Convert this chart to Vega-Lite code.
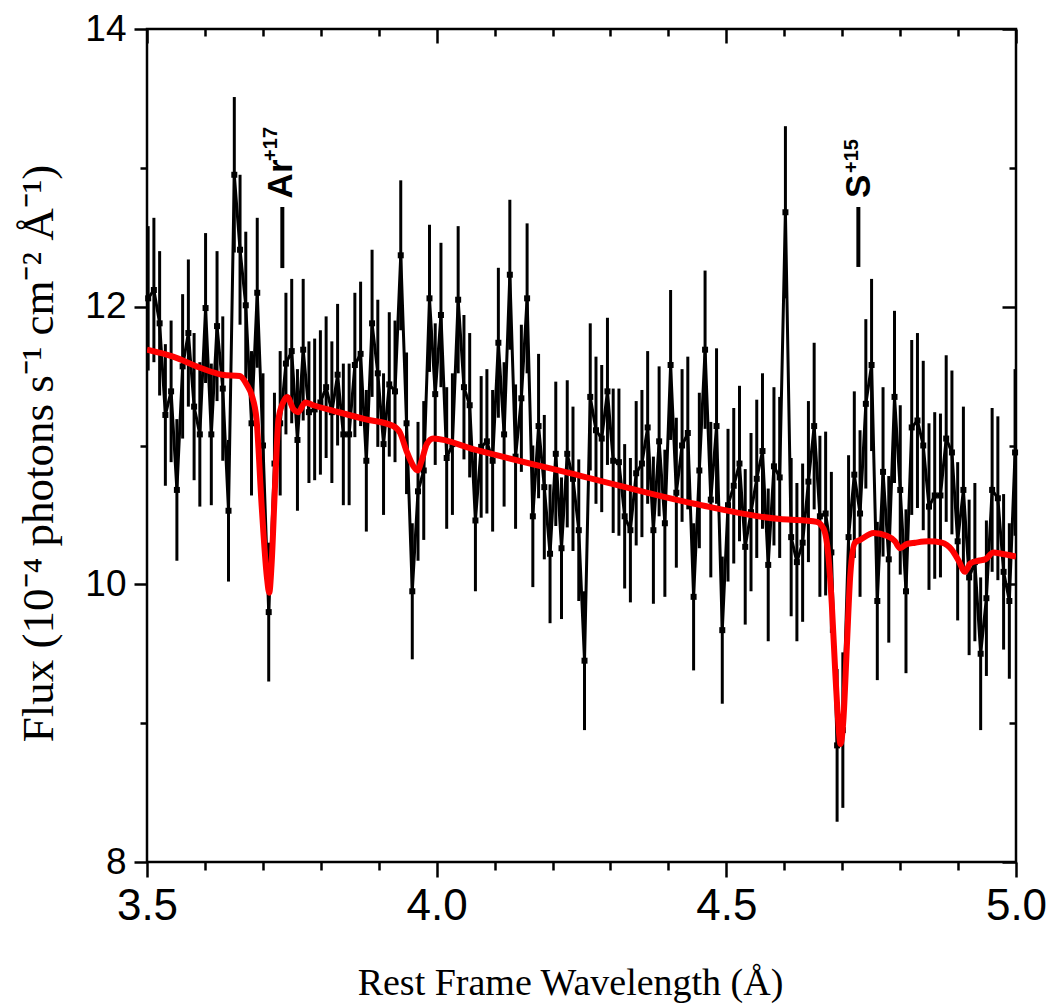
{
  "$schema": "https://vega.github.io/schema/vega-lite/v6.json",
  "width": 869,
  "height": 833,
  "autosize": {"type": "none"},
  "padding": {"left": 147, "top": 29, "right": 32, "bottom": 146},
  "background": "white",
  "config": {
    "view": {"stroke": "black", "strokeWidth": 2.5},
    "axis": {"grid": false, "domain": false, "tickColor": "black", "tickWidth": 2.5, "labelColor": "black", "titleColor": "black", "labelFlush": false, "labelOverlap": false}
  },
  "datasets": {
    "obs": [
      {"wl":3.5020,"flux":12.06,"err":0.52},{"wl":3.5119,"flux":12.12,"err":0.52},{"wl":3.5218,"flux":11.88,"err":0.52},{"wl":3.5317,"flux":11.22,"err":0.51},{"wl":3.5416,"flux":11.39,"err":0.51},
      {"wl":3.5516,"flux":10.68,"err":0.51},{"wl":3.5615,"flux":11.57,"err":0.52},{"wl":3.5714,"flux":11.81,"err":0.53},{"wl":3.5813,"flux":11.28,"err":0.53},{"wl":3.5912,"flux":11.08,"err":0.52},
      {"wl":3.6011,"flux":11.99,"err":0.54},{"wl":3.6110,"flux":11.08,"err":0.51},{"wl":3.6209,"flux":11.86,"err":0.54},{"wl":3.6308,"flux":11.41,"err":0.52},{"wl":3.6407,"flux":10.53,"err":0.51},
      {"wl":3.6507,"flux":12.95,"err":0.56},{"wl":3.6606,"flux":12.41,"err":0.54},{"wl":3.6705,"flux":12.01,"err":0.53},{"wl":3.6804,"flux":11.16,"err":0.52},{"wl":3.6903,"flux":12.10,"err":0.54},
      {"wl":3.7002,"flux":11.00,"err":0.52},{"wl":3.7101,"flux":9.80,"err":0.50},{"wl":3.7200,"flux":10.87,"err":0.51},{"wl":3.7299,"flux":11.16,"err":0.52},{"wl":3.7398,"flux":11.59,"err":0.51},
      {"wl":3.7498,"flux":11.68,"err":0.52},{"wl":3.7597,"flux":11.04,"err":0.51},{"wl":3.7696,"flux":11.69,"err":0.51},{"wl":3.7795,"flux":11.24,"err":0.51},{"wl":3.7894,"flux":11.26,"err":0.51},
      {"wl":3.7993,"flux":11.31,"err":0.52},{"wl":3.8092,"flux":11.42,"err":0.51},{"wl":3.8191,"flux":11.24,"err":0.51},{"wl":3.8290,"flux":11.51,"err":0.51},{"wl":3.8389,"flux":11.08,"err":0.51},
      {"wl":3.8489,"flux":11.08,"err":0.51},{"wl":3.8588,"flux":11.58,"err":0.52},{"wl":3.8687,"flux":11.66,"err":0.52},{"wl":3.8786,"flux":10.89,"err":0.51},{"wl":3.8885,"flux":11.88,"err":0.53},
      {"wl":3.8984,"flux":11.52,"err":0.53},{"wl":3.9083,"flux":11.01,"err":0.51},{"wl":3.9182,"flux":11.44,"err":0.52},{"wl":3.9281,"flux":11.39,"err":0.51},{"wl":3.9380,"flux":12.37,"err":0.54},
      {"wl":3.9480,"flux":11.16,"err":0.51},{"wl":3.9579,"flux":9.95,"err":0.49},{"wl":3.9678,"flux":10.67,"err":0.50},{"wl":3.9777,"flux":10.82,"err":0.50},{"wl":3.9876,"flux":12.06,"err":0.53},
      {"wl":3.9975,"flux":11.37,"err":0.51},{"wl":4.0074,"flux":11.94,"err":0.52},{"wl":4.0173,"flux":10.91,"err":0.51},{"wl":4.0272,"flux":11.01,"err":0.51},{"wl":4.0371,"flux":12.05,"err":0.53},
      {"wl":4.0471,"flux":11.42,"err":0.52},{"wl":4.0570,"flux":11.29,"err":0.52},{"wl":4.0669,"flux":10.46,"err":0.51},{"wl":4.0768,"flux":10.99,"err":0.51},{"wl":4.0867,"flux":11.03,"err":0.52},
      {"wl":4.0966,"flux":10.89,"err":0.51},{"wl":4.1065,"flux":11.74,"err":0.54},{"wl":4.1164,"flux":11.08,"err":0.52},{"wl":4.1263,"flux":12.23,"err":0.54},{"wl":4.1362,"flux":10.92,"err":0.52},
      {"wl":4.1462,"flux":11.34,"err":0.53},{"wl":4.1561,"flux":12.06,"err":0.54},{"wl":4.1660,"flux":10.49,"err":0.51},{"wl":4.1759,"flux":11.14,"err":0.52},{"wl":4.1858,"flux":10.70,"err":0.52},
      {"wl":4.1957,"flux":10.22,"err":0.50},{"wl":4.2056,"flux":10.94,"err":0.52},{"wl":4.2155,"flux":10.26,"err":0.51},{"wl":4.2254,"flux":10.94,"err":0.53},{"wl":4.2353,"flux":10.76,"err":0.52},
      {"wl":4.2453,"flux":10.39,"err":0.51},{"wl":4.2552,"flux":9.45,"err":0.50},{"wl":4.2651,"flux":11.35,"err":0.53},{"wl":4.2750,"flux":11.11,"err":0.53},{"wl":4.2849,"flux":11.05,"err":0.53},
      {"wl":4.2948,"flux":11.39,"err":0.53},{"wl":4.3047,"flux":10.89,"err":0.52},{"wl":4.3146,"flux":10.88,"err":0.53},{"wl":4.3245,"flux":10.49,"err":0.52},{"wl":4.3344,"flux":10.39,"err":0.52},
      {"wl":4.3444,"flux":10.80,"err":0.52},{"wl":4.3543,"flux":10.87,"err":0.53},{"wl":4.3642,"flux":11.13,"err":0.55},{"wl":4.3741,"flux":10.39,"err":0.53},{"wl":4.3840,"flux":11.03,"err":0.54},
      {"wl":4.3939,"flux":10.44,"err":0.53},{"wl":4.4038,"flux":11.58,"err":0.54},{"wl":4.4137,"flux":10.66,"err":0.54},{"wl":4.4236,"flux":11.00,"err":0.55},{"wl":4.4335,"flux":11.09,"err":0.55},
      {"wl":4.4435,"flux":9.91,"err":0.53},{"wl":4.4534,"flux":10.82,"err":0.56},{"wl":4.4633,"flux":11.69,"err":0.57},{"wl":4.4732,"flux":10.61,"err":0.56},{"wl":4.4831,"flux":11.14,"err":0.56},
      {"wl":4.4930,"flux":9.67,"err":0.53},{"wl":4.5029,"flux":10.57,"err":0.55},{"wl":4.5128,"flux":10.71,"err":0.56},{"wl":4.5227,"flux":10.87,"err":0.56},{"wl":4.5326,"flux":10.27,"err":0.56},
      {"wl":4.5426,"flux":10.52,"err":0.57},{"wl":4.5525,"flux":10.76,"err":0.57},{"wl":4.5624,"flux":10.96,"err":0.56},{"wl":4.5723,"flux":10.14,"err":0.55},{"wl":4.5822,"flux":10.85,"err":0.57},
      {"wl":4.5921,"flux":10.77,"err":0.58},{"wl":4.6020,"flux":12.68,"err":0.62},{"wl":4.6119,"flux":10.34,"err":0.57},{"wl":4.6218,"flux":10.16,"err":0.57},{"wl":4.6317,"flux":10.30,"err":0.57},
      {"wl":4.6417,"flux":10.74,"err":0.58},{"wl":4.6516,"flux":11.14,"err":0.60},{"wl":4.6615,"flux":10.49,"err":0.58},{"wl":4.6714,"flux":10.51,"err":0.59},{"wl":4.6813,"flux":10.23,"err":0.58},
      {"wl":4.6912,"flux":8.84,"err":0.55},{"wl":4.7011,"flux":8.95,"err":0.56},{"wl":4.7110,"flux":10.34,"err":0.59},{"wl":4.7209,"flux":10.79,"err":0.60},{"wl":4.7308,"flux":10.51,"err":0.60},
      {"wl":4.7408,"flux":11.30,"err":0.61},{"wl":4.7507,"flux":11.58,"err":0.62},{"wl":4.7606,"flux":9.88,"err":0.57},{"wl":4.7705,"flux":10.81,"err":0.61},{"wl":4.7804,"flux":10.18,"err":0.60},
      {"wl":4.7903,"flux":11.35,"err":0.62},{"wl":4.8002,"flux":10.68,"err":0.61},{"wl":4.8101,"flux":9.95,"err":0.59},{"wl":4.8200,"flux":11.13,"err":0.63},{"wl":4.8299,"flux":11.18,"err":0.63},
      {"wl":4.8399,"flux":11.00,"err":0.61},{"wl":4.8498,"flux":10.56,"err":0.60},{"wl":4.8597,"flux":10.64,"err":0.60},{"wl":4.8696,"flux":10.64,"err":0.59},{"wl":4.8795,"flux":11.05,"err":0.60},
      {"wl":4.8894,"flux":10.95,"err":0.59},{"wl":4.8993,"flux":10.31,"err":0.57},{"wl":4.9092,"flux":10.68,"err":0.60},{"wl":4.9191,"flux":10.05,"err":0.56},{"wl":4.9290,"flux":10.16,"err":0.57},
      {"wl":4.9390,"flux":9.50,"err":0.55},{"wl":4.9489,"flux":9.90,"err":0.56},{"wl":4.9588,"flux":10.68,"err":0.59},{"wl":4.9687,"flux":10.62,"err":0.59},{"wl":4.9786,"flux":10.09,"err":0.56},
      {"wl":4.9885,"flux":9.88,"err":0.56},{"wl":4.9984,"flux":10.95,"err":0.60}
    ],
    "model": [
      {"wl":3.500,"flux":11.69},{"wl":3.545,"flux":11.64},{"wl":3.592,"flux":11.56},{"wl":3.630,"flux":11.51},{"wl":3.660,"flux":11.50},
      {"wl":3.672,"flux":11.44},{"wl":3.681,"flux":11.36},{"wl":3.689,"flux":11.19},{"wl":3.698,"flux":10.56},{"wl":3.707,"flux":10.05},
      {"wl":3.711,"flux":9.94},{"wl":3.715,"flux":10.14},{"wl":3.721,"flux":10.71},{"wl":3.727,"flux":11.19},{"wl":3.735,"flux":11.31},
      {"wl":3.742,"flux":11.35},{"wl":3.753,"flux":11.26},{"wl":3.761,"flux":11.24},{"wl":3.773,"flux":11.31},{"wl":3.787,"flux":11.29},
      {"wl":3.822,"flux":11.25},{"wl":3.876,"flux":11.19},{"wl":3.925,"flux":11.14},{"wl":3.937,"flux":11.09},{"wl":3.948,"flux":10.96},
      {"wl":3.960,"flux":10.85},{"wl":3.967,"flux":10.82},{"wl":3.974,"flux":10.89},{"wl":3.983,"flux":11.01},{"wl":3.994,"flux":11.05},
      {"wl":4.066,"flux":10.97},{"wl":4.250,"flux":10.78},{"wl":4.445,"flux":10.58},{"wl":4.593,"flux":10.47},{"wl":4.636,"flux":10.46},
      {"wl":4.656,"flux":10.45},{"wl":4.668,"flux":10.40},{"wl":4.676,"flux":10.21},{"wl":4.682,"flux":9.86},{"wl":4.688,"flux":9.37},
      {"wl":4.693,"flux":9.02},{"wl":4.697,"flux":8.85},{"wl":4.702,"flux":9.02},{"wl":4.708,"flux":9.55},{"wl":4.714,"flux":10.07},
      {"wl":4.722,"flux":10.30},{"wl":4.731,"flux":10.32},{"wl":4.754,"flux":10.37},{"wl":4.777,"flux":10.35},{"wl":4.791,"flux":10.31},
      {"wl":4.800,"flux":10.26},{"wl":4.811,"flux":10.29},{"wl":4.826,"flux":10.30},{"wl":4.849,"flux":10.31},{"wl":4.872,"flux":10.30},
      {"wl":4.889,"flux":10.25},{"wl":4.901,"flux":10.17},{"wl":4.912,"flux":10.09},{"wl":4.921,"flux":10.15},{"wl":4.935,"flux":10.17},
      {"wl":4.947,"flux":10.18},{"wl":4.961,"flux":10.23},{"wl":4.975,"flux":10.22},{"wl":5.000,"flux":10.20}
    ],
    "ions": [
      {"ion":"Ar","wl":3.7336,"lo":12.278,"hi":12.718},
      {"ion":"S","wl":4.7279,"lo":12.286,"hi":12.718}
    ],
    "labels": [
      {"wl":3.7313,"flux":12.92,"text":"Ar","kind":"base"},
      {"wl":3.7149,"flux":13.172,"text":"+17","kind":"sup"},
      {"wl":4.7282,"flux":12.866,"text":"S","kind":"base"},
      {"wl":4.7161,"flux":13.085,"text":"+15","kind":"sup"}
    ]
  },
  "resolve": {"axis": {"x": "independent", "y": "independent"}},
  "layer": [
    {
      "data": {"name": "obs"},
      "mark": {"type": "errorbar", "thickness": 3, "color": "black"},
      "encoding": {
        "x": {"field": "wl", "type": "quantitative", "scale": {"domain": [3.5, 5.0], "nice": false, "zero": false}, "axis": null},
        "y": {"field": "flux", "type": "quantitative", "scale": {"domain": [8, 14], "nice": false, "zero": false}, "axis": null},
        "yError": {"field": "err"}
      }
    },
    {
      "data": {"name": "obs"},
      "mark": {"type": "line", "color": "black", "strokeWidth": 3, "clip": true},
      "encoding": {
        "x": {"field": "wl", "type": "quantitative", "scale": {"domain": [3.5, 5.0], "nice": false, "zero": false},
          "axis": {"orient": "bottom", "values": [3.5, 4.0, 4.5, 5.0], "format": ".1f", "tickSize": 15, "labelPadding": 7,
            "labelFont": "Liberation Sans", "labelFontSize": 44,
            "title": "Rest Frame Wavelength (Å)", "titleFont": "Liberation Serif", "titleFontSize": 38, "titleFontWeight": "normal",
            "titleX": 423, "titleY": 132, "titleBaseline": "alphabetic", "titleAnchor": "middle"}},
        "y": {"field": "flux", "type": "quantitative", "scale": {"domain": [8, 14], "nice": false, "zero": false},
          "axis": {"orient": "left", "values": [8, 10, 12, 14], "tickSize": 13, "labelPadding": 8,
            "labelFont": "Liberation Sans", "labelFontSize": 37,
            "title": "Flux (10⁻⁴ photons s⁻¹ cm⁻² Å⁻¹)", "titleFont": "Liberation Serif", "titleFontSize": 45, "titleFontWeight": "normal",
            "titleX": -109, "titleY": 424, "titleAngle": 270, "titleBaseline": "middle", "titleAnchor": "middle"}}
      }
    },
    {
      "data": {"name": "obs"},
      "mark": {"type": "point", "shape": "square", "filled": true, "color": "black", "size": 36, "opacity": 1},
      "encoding": {
        "x": {"field": "wl", "type": "quantitative", "scale": {"domain": [3.5, 5.0], "nice": false, "zero": false},
          "axis": {"orient": "bottom", "values": [3.6, 3.7, 3.8, 3.9, 4.1, 4.2, 4.3, 4.4, 4.6, 4.7, 4.8, 4.9], "tickSize": 8, "labels": false, "title": null}},
        "y": {"field": "flux", "type": "quantitative", "scale": {"domain": [8, 14], "nice": false, "zero": false},
          "axis": {"orient": "left", "values": [9, 11, 13], "tickSize": 7, "labels": false, "title": null}}
      }
    },
    {
      "data": {"name": "model"},
      "mark": {"type": "line", "color": "#ff0000", "strokeWidth": 6, "interpolate": "monotone", "clip": true},
      "encoding": {
        "x": {"field": "wl", "type": "quantitative", "scale": {"domain": [3.5, 5.0], "nice": false, "zero": false},
          "axis": {"orient": "top", "values": [3.5, 4.0, 4.5, 5.0], "tickSize": -14, "labels": false, "title": null}},
        "y": {"field": "flux", "type": "quantitative", "scale": {"domain": [8, 14], "nice": false, "zero": false},
          "axis": {"orient": "right", "values": [8, 10, 12, 14], "tickSize": -14, "labels": false, "title": null}}
      }
    },
    {
      "data": {"name": "ions"},
      "mark": {"type": "rule", "color": "black", "strokeWidth": 4},
      "encoding": {
        "x": {"field": "wl", "type": "quantitative", "scale": {"domain": [3.5, 5.0], "nice": false, "zero": false},
          "axis": {"orient": "top", "values": [3.6, 3.7, 3.8, 3.9, 4.1, 4.2, 4.3, 4.4, 4.6, 4.7, 4.8, 4.9], "tickSize": -7, "labels": false, "title": null}},
        "y": {"field": "lo", "type": "quantitative", "scale": {"domain": [8, 14], "nice": false, "zero": false},
          "axis": {"orient": "right", "values": [9, 11, 13], "tickSize": -7, "labels": false, "title": null}},
        "y2": {"field": "hi"}
      }
    },
    {
      "data": {"name": "labels"},
      "mark": {"type": "text", "font": "Liberation Sans", "fontWeight": "bold", "angle": 270, "align": "center", "baseline": "middle", "color": "black"},
      "encoding": {
        "x": {"field": "wl", "type": "quantitative", "axis": null},
        "y": {"field": "flux", "type": "quantitative", "axis": null},
        "text": {"field": "text"},
        "size": {"field": "kind", "type": "nominal", "scale": {"domain": ["base", "sup"], "range": [35, 20]}, "legend": null}
      }
    }
  ]
}
